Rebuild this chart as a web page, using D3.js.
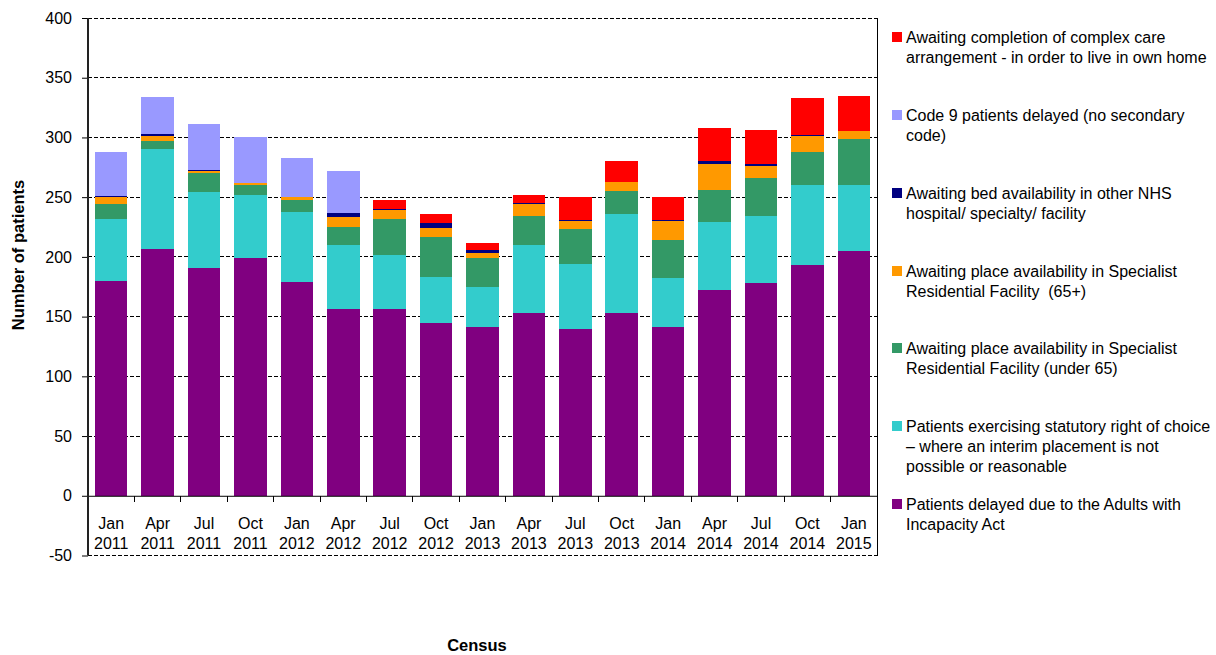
<!DOCTYPE html>
<html><head><meta charset="utf-8">
<script src="https://cdn.jsdelivr.net/npm/d3@7/dist/d3.min.js"></script>
<style>
html,body{margin:0;padding:0;background:#fff;}
svg{display:block;font-family:"Liberation Sans",Arial,sans-serif;}
.leg text{white-space:pre;}
</style></head>
<body><svg id="c" width="1216" height="655"></svg>
<script>
const months = ["Jan","Apr","Jul","Oct","Jan","Apr","Jul","Oct","Jan","Apr","Jul","Oct","Jan","Apr","Jul","Oct","Jan"];
const years  = ["2011","2011","2011","2011","2012","2012","2012","2012","2013","2013","2013","2013","2014","2014","2014","2014","2015"];
const categories = months.map((m,i)=>m+" "+years[i]);
const yTicks = [-50,0,50,100,150,200,250,300,350,400];

const adultsIncapacity = [180,207,191,199,179,156,156,145,141,153,140,153,141,172,178,193,205];
const statutoryChoice  = [52,83,63,53,59,54,46,38,34,57,54,83,41,57,56,67,55];
const specialistUnder65= [12,7,16,8,10,15,30,34,24,24,29,19,32,27,32,28,39];
const specialist65plus = [6,4,2,2,2,8,7,7,4,10,7,8,16,22,10,13,6];
const bedNHS           = [1,2,1,0,0,4,1,4,3,1,1,0,1,2,2,1,0];
const code9            = [37,31,38,38,33,35,0,0,0,0,0,0,0,0,0,0,0];
const complexCare      = [0,0,0,0,0,0,8,8,6,7,19,17,19,28,28,31,30];

const seriesNames = [
  ["Patients delayed due to the Adults with","Incapacity Act"],
  ["Patients exercising statutory right of choice","– where an interim placement is not","possible or reasonable"],
  ["Awaiting place availability in Specialist","Residential Facility (under 65)"],
  ["Awaiting place availability in Specialist","Residential Facility  (65+)"],
  ["Awaiting bed availability in other NHS","hospital/ specialty/ facility"],
  ["Code 9 patients delayed (no secondary","code)"],
  ["Awaiting completion of complex care","arrangement - in order to live in own home"]
];
const seriesColors = ["#800080","#33CCCC","#339966","#FF9900","#000080","#9999FF","#FF0000"];
const seriesValues = [adultsIncapacity,statutoryChoice,specialistUnder65,specialist65plus,bedNHS,code9,complexCare];
const keys = ["s0","s1","s2","s3","s4","s5","s6"];

const rows = categories.map((c,i)=>{const r={cat:c}; keys.forEach((k,j)=>r[k]=seriesValues[j][i]); return r;});

const svg = d3.select("#c");
const L=88, R=877, T=18, B=555.5;
const x = d3.scaleBand().domain(categories).range([L,R]).paddingInner(0.3).paddingOuter(0.15);
const y = d3.scaleLinear().domain([-50,400]).range([B,T]);

// gridlines
svg.append("g").selectAll("line").data(yTicks.filter(v=>v!==0)).join("line")
  .attr("x1",L).attr("x2",R).attr("y1",d=>y(d)).attr("y2",d=>y(d))
  .attr("stroke","#000").attr("stroke-width",1).attr("stroke-dasharray","4,2")
  .attr("shape-rendering","crispEdges");

// bars
const stack = d3.stack().keys(keys)(rows);
svg.append("g").selectAll("g").data(stack).join("g")
  .attr("fill",(d,i)=>seriesColors[i])
  .selectAll("rect").data(d=>d).join("rect")
  .attr("x",d=>x(d.data.cat)).attr("width",x.bandwidth())
  .attr("y",d=>y(d[1])).attr("height",d=>Math.max(0,y(d[0])-y(d[1])))
  .attr("shape-rendering","crispEdges");

// zero axis
const xAxis = d3.axisBottom(x).tickSize(0).tickFormat("");
svg.append("g").attr("transform",`translate(0,${y(0)})`).call(xAxis)
  .call(g=>g.select(".domain").attr("stroke","#000").attr("stroke-width",1));
// category boundary ticks
svg.append("g").selectAll("line").data(categories.slice(1)).join("line")
  .attr("x1",d=>x(d)-x.step()*x.paddingInner()/2).attr("x2",d=>x(d)-x.step()*x.paddingInner()/2)
  .attr("y1",y(0)).attr("y2",y(0)+6).attr("stroke","#000").attr("shape-rendering","crispEdges");
// category labels
const lab = svg.append("g").attr("font-size",16).attr("fill","#000").attr("text-anchor","middle");
categories.forEach((c,i)=>{
  const cx = x(c)+x.bandwidth()/2;
  lab.append("text").attr("x",cx).attr("y",529).text(months[i]);
  lab.append("text").attr("x",cx).attr("y",549).text(years[i]);
});

// y axis
const yAxis = d3.axisLeft(y).tickValues(yTicks).tickSize(6).tickPadding(10).tickFormat(d=>String(d));
svg.append("g").attr("transform",`translate(${L},0)`).call(yAxis)
  .call(g=>g.select(".domain").remove())
  .call(g=>g.selectAll(".tick line").attr("stroke","#000"))
  .call(g=>g.selectAll(".tick text").attr("font-size",16).attr("fill","#000")
     .attr("font-family","'Liberation Sans',Arial,sans-serif"));
svg.append("line").attr("x1",L).attr("x2",L).attr("y1",T).attr("y2",B)
  .attr("stroke","#222").attr("stroke-width",2);
svg.append("line").attr("x1",R).attr("x2",R).attr("y1",T).attr("y2",B)
  .attr("stroke","#000").attr("stroke-width",1).attr("shape-rendering","crispEdges");

// axis titles
svg.append("text").attr("transform","translate(24,255) rotate(-90)").attr("text-anchor","middle")
  .attr("font-size",16.5).attr("font-weight","bold").text("Number of patients");
svg.append("text").attr("x",477).attr("y",651).attr("text-anchor","middle")
  .attr("font-size",16.5).attr("font-weight","bold").text("Census");

// legend (reverse order)
const legTops = [32,110,188,266,343,421,499];
const leg = svg.append("g").attr("class","leg");
const order = [6,5,4,3,2,1,0];
order.forEach((si,k)=>{
  const top = legTops[k];
  leg.append("rect").attr("x",892).attr("y",top).attr("width",10).attr("height",10).attr("fill",seriesColors[si]);
  seriesNames[si].forEach((line,li)=>{
    leg.append("text").attr("x",906).attr("y",top+5+li*20).attr("dy","0.35em")
      .attr("font-size",16).attr("fill","#000").text(line);
  });
});
</script></body></html>
